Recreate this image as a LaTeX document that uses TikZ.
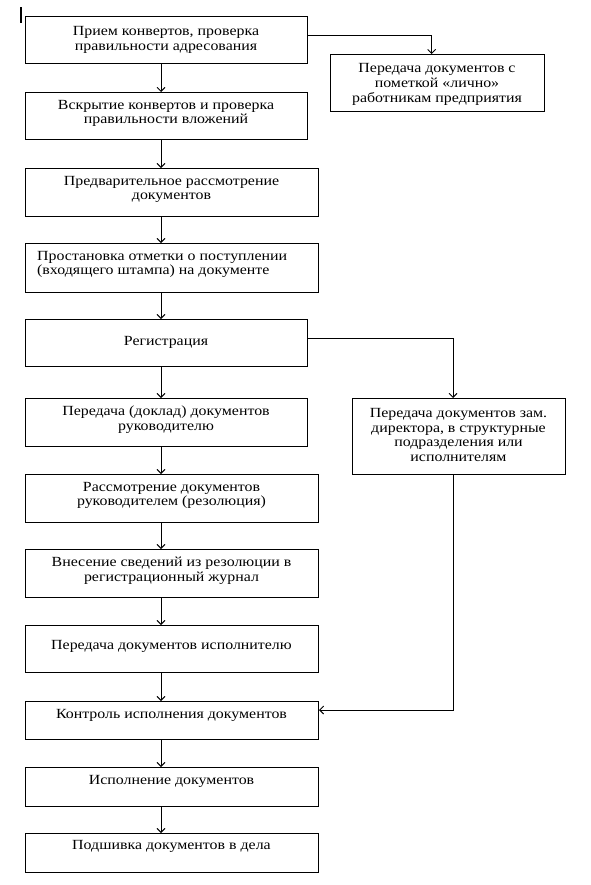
\documentclass[tikz,border=0pt]{standalone}
\usepackage{fontspec}
\setmainfont{Liberation Serif}[FakeStretch=1.14]
\usetikzlibrary{arrows.meta}
\begin{document}
\begin{tikzpicture}[x=1bp,y=-1bp,
  box/.style={draw, line width=1bp, rectangle, inner sep=0pt, anchor=north west},
  txt/.style={inner sep=0pt, align=center, font=\fontsize{14}{14.8}\selectfont},
  arr/.style={line width=0.9bp, -{Straight Barb[length=4bp,width=8bp]}}]
\useasboundingbox (0,0) rectangle (591,885);
% cursor mark
\fill (19.5,7) rectangle (22.3,23);
% left column boxes
\node[box, minimum width=282bp, minimum height=47bp] (b1) at (25,16) {};
\node[box, minimum width=282bp, minimum height=47bp] (b2) at (25,92) {};
\node[box, minimum width=293bp, minimum height=48bp] (b3) at (25,168) {};
\node[box, minimum width=293bp, minimum height=49bp] (b4) at (25,243) {};
\node[box, minimum width=282bp, minimum height=47bp] (b5) at (25,319) {};
\node[box, minimum width=282bp, minimum height=48bp] (b6) at (25,398) {};
\node[box, minimum width=293bp, minimum height=48bp] (b7) at (25,474) {};
\node[box, minimum width=293bp, minimum height=48bp] (b8) at (25,549) {};
\node[box, minimum width=293bp, minimum height=47bp] (b9) at (25,625) {};
\node[box, minimum width=293bp, minimum height=38bp] (b10) at (25,701) {};
\node[box, minimum width=293bp, minimum height=39bp] (b11) at (25,767) {};
\node[box, minimum width=293bp, minimum height=39bp] (b12) at (25,833) {};
% right boxes
\node[box, minimum width=214bp, minimum height=57bp] (r1) at (330,54) {};
\node[box, minimum width=213bp, minimum height=76bp] (r2) at (352,398) {};
% texts
\node[txt] (t1) at (166,40) {Прием конвертов, проверка\\правильности адресования};
\node[txt] (t2) at (166,113.5) {Вскрытие конвертов и проверка\\правильности вложений};
\node[txt] (t3) at (171.5,189.5) {Предварительное рассмотрение\\документов};
\node[txt, align=left, anchor=west] (t4) at (37,264.5) {Простановка отметки о поступлении\\(входящего штампа) на документе};
\node[txt] (t5) at (166,342) {Регистрация};
\node[txt] (t6) at (166,419.5) {Передача (доклад) документов\\руководителю};
\node[txt] (t7) at (171.5,495.5) {Рассмотрение документов\\руководителем (резолюция)};
\node[txt] (t8) at (171.5,570.5) {Внесение сведений из резолюции в\\регистрационный журнал};
\node[txt] (t9) at (171.5,646.7) {Передача документов исполнителю};
\node[txt] (t10) at (171.5,715) {Контроль исполнения документов};
\node[txt] (t11) at (171.5,781) {Исполнение документов};
\node[txt] (t12) at (171.5,846.7) {Подшивка документов в дела};
\node[txt] (tr1) at (437,84.3) {Передача документов с\\пометкой «лично»\\работникам предприятия};
\node[txt] (tr2) at (458.5,435) {Передача документов зам.\\директора, в структурные\\подразделения или\\исполнителям};
% connectors
\coordinate (cx) at (161,0);
\draw[arr] (b1.south -| cx) -- (b2.north -| cx);
\draw[arr] (b2.south -| cx) -- (b3.north -| cx);
\draw[arr] (b3.south -| cx) -- (b4.north -| cx);
\draw[arr] (b4.south -| cx) -- (b5.north -| cx);
\draw[arr] (b5.south -| cx) -- (b6.north -| cx);
\draw[arr] (b6.south -| cx) -- (b7.north -| cx);
\draw[arr] (b7.south -| cx) -- (b8.north -| cx);
\draw[arr] (b8.south -| cx) -- (b9.north -| cx);
\draw[arr] (b9.south -| cx) -- (b10.north -| cx);
\draw[arr] (b10.south -| cx) -- (b11.north -| cx);
\draw[arr] (b11.south -| cx) -- (b12.north -| cx);
\coordinate (k1) at (431.7,35);
\coordinate (k2) at (453,338);
\coordinate (k3) at (453,710);
\draw[arr] (b1.east |- k1) -- (k1) -- (r1.north -| k1);
\draw[arr] (b5.east |- k2) -- (k2) -- (r2.north -| k2);
\draw[arr] (r2.south -| k3) -- (k3) -- (b10.east |- k3);
\end{tikzpicture}
\end{document}
